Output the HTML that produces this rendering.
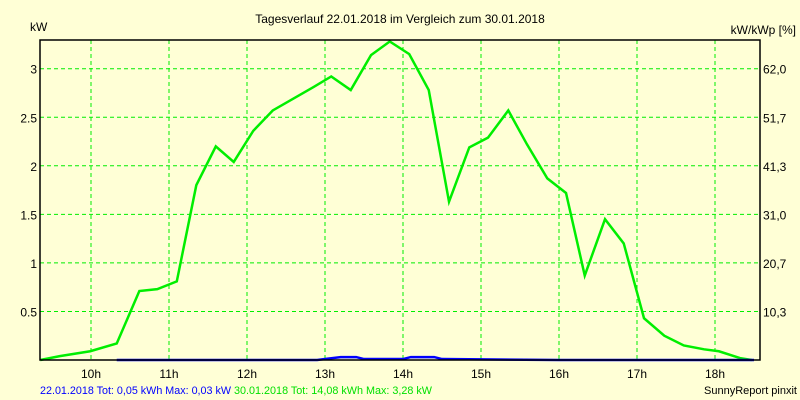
<!DOCTYPE html>
<html><head><meta charset="utf-8"><style>
body{margin:0;background:#ffffd6;}
svg{display:block;font-family:"Liberation Sans",sans-serif;font-size:12px;}
</style></head><body>
<svg width="800" height="400" xmlns="http://www.w3.org/2000/svg">
<rect width="800" height="400" fill="#ffffd6"/>
<g id="grid"></g>
<g id="marks"></g>
<rect x="40" y="40" width="720" height="320" fill="none" stroke="#000" stroke-width="1.5"/>
<g id="labels"></g>
<text x="400" y="23" text-anchor="middle">Tagesverlauf 22.01.2018 im Vergleich zum 30.01.2018</text>
<text x="30" y="31">kW</text>
<text x="796" y="34" text-anchor="end">kW/kWp [%]</text>
<text x="40" y="394" font-size="11" fill="#0000ff" textLength="191" lengthAdjust="spacingAndGlyphs">22.01.2018 Tot: 0,05 kWh Max: 0,03 kW</text>
<text x="234" y="394" font-size="11" fill="#00e000" textLength="198" lengthAdjust="spacingAndGlyphs">30.01.2018 Tot: 14,08 kWh Max: 3,28 kW</text>
<text x="797" y="394" text-anchor="end" font-size="11">SunnyReport pinxit</text>
</svg>
<script>
const xTicks=[10,11,12,13,14,15,16,17,18];
const yTicks=[0.5,1,1.5,2,2.5,3];
const yTickLabels=["0.5","1","1.5","2","2.5","3"];
const y2TickLabels=["10,3","20,7","31,0","41,3","51,7","62,0"];
const greenTimes=[9.35,9.6,9.99,10.33,10.62,10.85,11.1,11.35,11.6,11.83,12.08,12.33,12.85,13.08,13.33,13.59,13.83,14.08,14.33,14.59,14.85,15.09,15.35,15.59,15.85,16.09,16.33,16.59,16.83,17.09,17.35,17.6,17.86,18.05,18.32,18.47];
const greenValues=[0,0.04,0.09,0.17,0.71,0.73,0.81,1.8,2.2,2.04,2.36,2.57,2.81,2.92,2.78,3.14,3.28,3.15,2.78,1.63,2.19,2.29,2.57,2.22,1.87,1.72,0.87,1.45,1.2,0.43,0.25,0.15,0.11,0.09,0.02,0];
const blueTimes=[10.33,12.9,13.0,13.2,13.4,13.5,14.0,14.1,14.4,14.5,16.0,18.5];
const blueValues=[0,0,0.01,0.03,0.03,0.01,0.01,0.03,0.03,0.01,0,0];
const NS="http://www.w3.org/2000/svg";
const X=h=>91+(h-10)*78;
const Y=v=>360-v*97.1;
function mk(tag,attrs,parent){const e=document.createElementNS(NS,tag);for(const k in attrs)e.setAttribute(k,attrs[k]);parent.appendChild(e);return e;}
const grid=document.getElementById('grid'),marks=document.getElementById('marks'),labels=document.getElementById('labels');
xTicks.forEach(h=>{
 const l=mk('line',{x1:X(h),x2:X(h),y1:40,y2:360,stroke:'#00ee00','stroke-dasharray':'4,3'},grid);
 
 
 const t=mk('text',{x:X(h),y:378,'text-anchor':'middle'},labels);t.textContent=h+'h';
 
 
});
yTicks.forEach((v,i)=>{
 const l=mk('line',{x1:40,x2:760,y1:Y(v),y2:Y(v),stroke:'#00ee00','stroke-dasharray':'4,3'},grid);
 
 
 const t=mk('text',{x:37,y:Y(v)+5,'text-anchor':'end'},labels);t.textContent=yTickLabels[i];
 
 
 const t2=mk('text',{x:763,y:Y(v)+5},labels);t2.textContent=y2TickLabels[i];
 
 
});
const gp=mk('polyline',{points:greenTimes.map((h,i)=>X(h)+','+Y(greenValues[i])).join(' '),fill:'none',stroke:'#00ee00','stroke-width':2.5},marks);


const bp=mk('polyline',{points:blueTimes.map((h,i)=>X(h)+','+Y(blueValues[i])).join(' '),fill:'none',stroke:'#0000ff','stroke-width':2.5},marks);


</script>
</body></html>
